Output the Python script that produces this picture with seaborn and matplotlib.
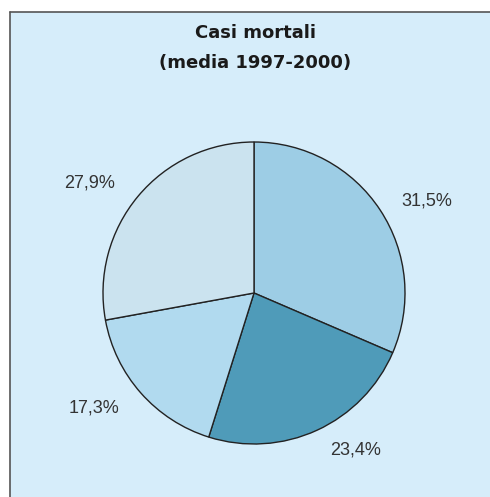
import matplotlib
matplotlib.use("Agg")
import matplotlib.pyplot as plt
import seaborn as sns
from matplotlib.patches import Rectangle
from matplotlib.lines import Line2D

sns.set_theme(style="white")

# Data
categories = ["A", "B", "C", "D"]
values = [31.5, 23.4, 17.3, 27.9]
labels = ["31,5%", "23,4%", "17,3%", "27,9%"]
colors = ["#9dcde5", "#4f9bb9", "#b1daef", "#cbe3ef"]
title_line1 = "Casi mortali"
title_line2 = "(media 1997-2000)"

# label placement (data coords relative to unit pie)
label_pos = [(1.146, 0.609), (0.675, -1.04), (-1.06, -0.76), (-1.086, 0.728)]

W, H = 490, 497
fig = plt.figure(figsize=(W / 100, H / 100), dpi=100)
fig.patch.set_facecolor("white")

bg = "#d6edfa"
fig.add_artist(Rectangle((10 / W, 0), 1 - 10 / W, 1 - 12 / H, transform=fig.transFigure,
                         facecolor=bg, edgecolor="none", zorder=0))
fig.add_artist(Line2D([10 / W, 10 / W], [0, 1 - 12 / H], transform=fig.transFigure,
                      color="#555555", lw=1.2, zorder=1))
fig.add_artist(Line2D([10 / W, 1], [1 - 12 / H, 1 - 12 / H], transform=fig.transFigure,
                      color="#555555", lw=1.2, zorder=1))

cx, cy, r = 254, 293, 151
ax = fig.add_axes([(cx - r) / W, (H - cy - r) / H, 2 * r / W, 2 * r / H])
ax.set_facecolor("none")
ax.patch.set_alpha(0)

wedges, texts = ax.pie(values, labels=labels, colors=colors, startangle=90, counterclock=False,
                       radius=1, labeldistance=1.25,
                       wedgeprops=dict(edgecolor="#222222", linewidth=1.0),
                       textprops=dict(fontsize=13, color="#333333", family="Liberation Sans"))
for t, (x, y) in zip(texts, label_pos):
    t.set_position((x, y))
    t.set_ha("center")
    t.set_va("center")
ax.set_xlim(-1, 1)
ax.set_ylim(-1, 1)
ax.set_aspect("equal")
ax.axis("off")

fig.text(255 / W, 1 - 33 / H, title_line1, ha="center", va="center", fontsize=13,
         fontweight="bold", color="#1a1a1a", family="DejaVu Sans")
fig.text(255 / W, 1 - 63 / H, title_line2, ha="center", va="center", fontsize=13,
         fontweight="bold", color="#1a1a1a", family="DejaVu Sans")

fig.savefig("out.png", dpi=100, facecolor=fig.get_facecolor())
